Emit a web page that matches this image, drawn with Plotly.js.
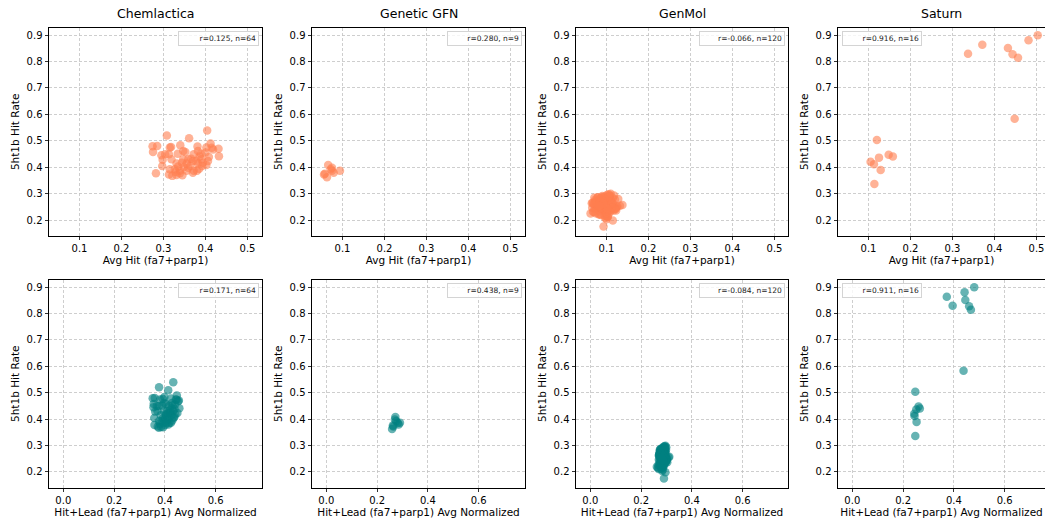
<!DOCTYPE html>
<html><head><meta charset="utf-8">
<script src="https://cdn.plot.ly/plotly-3.0.1.min.js"></script>
<style>html,body{margin:0;padding:0;background:#fff;overflow:hidden}#chart{width:1045px;height:519px}</style>
</head><body><div id="chart"></div>
<script>
const methods = ['Chemlactica', 'Genetic GFN', 'GenMol', 'Saturn'];
const topXLabel = 'Avg Hit (fa7+parp1)';
const bottomXLabel = 'Hit+Lead (fa7+parp1) Avg Normalized';
const yLabel = '5ht1b Hit Rate';
const topStats = ['r=0.125, n=64', 'r=0.280, n=9', 'r=-0.066, n=120', 'r=0.916, n=16'];
const bottomStats = ['r=0.171, n=64', 'r=0.438, n=9', 'r=-0.084, n=120', 'r=0.911, n=16'];

// Chemlactica
const chemY = [0.539,0.520,0.509,0.479,0.480,0.457,0.474,0.476,0.483,0.489,0.470,0.473,0.478,0.449,0.449,0.451,0.457,0.449,0.451,0.455,0.438,0.441,0.428,0.404,0.414,0.430,0.423,0.430,0.414,0.408,0.414,0.402,0.401,0.392,0.392,0.386,0.386,0.386,0.377,0.372,0.370,0.369,0.379,0.377,0.386,0.404,0.417,0.423,0.440,0.423,0.430,0.430,0.398,0.461,0.467,0.474,0.445,0.461,0.432,0.404,0.394,0.382,0.367,0.417];
const chemHit = [0.404,0.308,0.361,0.274,0.285,0.275,0.315,0.318,0.340,0.412,0.431,0.415,0.381,0.304,0.313,0.334,0.352,0.372,0.389,0.400,0.408,0.432,0.298,0.297,0.331,0.359,0.378,0.390,0.382,0.402,0.355,0.335,0.348,0.315,0.327,0.339,0.372,0.380,0.282,0.313,0.331,0.345,0.370,0.339,0.355,0.364,0.394,0.406,0.386,0.370,0.347,0.319,0.359,0.382,0.418,0.402,0.295,0.347,0.366,0.392,0.385,0.329,0.321,0.344];
const chemNorm = [0.433,0.377,0.413,0.352,0.360,0.356,0.381,0.392,0.398,0.447,0.455,0.446,0.424,0.368,0.375,0.389,0.404,0.417,0.430,0.440,0.438,0.457,0.362,0.358,0.384,0.409,0.421,0.433,0.426,0.437,0.405,0.392,0.400,0.377,0.388,0.395,0.418,0.424,0.359,0.372,0.385,0.393,0.414,0.401,0.407,0.415,0.441,0.449,0.427,0.414,0.396,0.371,0.410,0.428,0.452,0.443,0.355,0.397,0.419,0.434,0.429,0.380,0.376,0.403];

// Genetic GFN
const gfnY = [0.408,0.375,0.362,0.392,0.386,0.379,0.386,0.398,0.372];
const gfnHit = [0.066,0.058,0.063,0.072,0.075,0.079,0.094,0.075,0.056];
const gfnNorm = [0.272,0.262,0.259,0.275,0.281,0.285,0.290,0.270,0.264];

// GenMol
const genmolY = [
0.262,0.248,0.275,0.231,0.289,0.254,0.267,0.218,0.243,0.281,
0.259,0.236,0.272,0.295,0.226,0.251,0.264,0.240,0.285,0.208,
0.270,0.246,0.257,0.233,0.278,0.262,0.222,0.291,0.249,0.268,
0.238,0.255,0.283,0.212,0.260,0.274,0.244,0.229,0.266,0.252,
0.287,0.235,0.258,0.271,0.215,0.248,0.280,0.263,0.241,0.297,
0.225,0.256,0.269,0.237,0.284,0.250,0.203,0.276,0.261,0.245,
0.232,0.273,0.258,0.290,0.219,0.265,0.247,0.282,0.239,0.254,
0.268,0.227,0.286,0.253,0.242,0.175,0.277,0.260,0.234,0.271,
0.249,0.293,0.221,0.264,0.256,0.240,0.279,0.198,0.267,0.252,
0.230,0.288,0.245,0.262,0.274,0.216,0.257,0.283,0.238,0.266,
0.251,0.270,0.226,0.294,0.243,0.259,0.280,0.211,0.263,0.247,
0.275,0.236,0.255,0.286,0.229,0.268,0.244,0.261,0.299,0.253];
const genmolHit = [
0.091,0.078,0.104,0.068,0.096,0.113,0.085,0.099,0.072,0.108,
0.082,0.117,0.094,0.101,0.074,0.126,0.088,0.106,0.079,0.097,
0.112,0.066,0.093,0.084,0.120,0.100,0.081,0.090,0.109,0.073,
0.095,0.087,0.115,0.103,0.070,0.083,0.122,0.098,0.077,0.107,
0.089,0.110,0.075,0.092,0.102,0.119,0.086,0.069,0.097,0.105,
0.062,0.080,0.111,0.094,0.071,0.124,0.100,0.088,0.116,0.076,
0.103,0.092,0.083,0.108,0.087,0.067,0.114,0.096,0.090,0.132,
0.078,0.099,0.105,0.085,0.121,0.093,0.073,0.110,0.101,0.088,
0.095,0.118,0.084,0.076,0.106,0.091,0.128,0.115,0.082,0.098,
0.070,0.104,0.089,0.113,0.079,0.096,0.138,0.086,0.109,0.093,
0.081,0.074,0.100,0.107,0.118,0.087,0.095,0.103,0.065,0.112,
0.090,0.123,0.097,0.079,0.108,0.085,0.101,0.092,0.110,0.083];
const genmolNorm = [
0.284,0.279,0.291,0.276,0.288,0.295,0.282,0.286,0.273,0.293,
0.281,0.297,0.287,0.290,0.275,0.299,0.283,0.292,0.278,0.285,
0.294,0.270,0.286,0.280,0.296,0.289,0.277,0.284,0.291,0.274,
0.288,0.283,0.298,0.279,0.287,0.276,0.301,0.285,0.272,0.290,
0.282,0.293,0.271,0.286,0.266,0.294,0.280,0.289,0.284,0.292,
0.268,0.278,0.295,0.287,0.274,0.302,0.283,0.281,0.297,0.276,
0.290,0.285,0.279,0.293,0.262,0.271,0.296,0.288,0.284,0.308,
0.277,0.286,0.291,0.282,0.298,0.290,0.273,0.294,0.287,0.281,
0.289,0.299,0.280,0.275,0.292,0.285,0.276,0.296,0.278,0.288,
0.272,0.291,0.284,0.295,0.277,0.287,0.311,0.283,0.293,0.286,
0.279,0.274,0.289,0.294,0.300,0.282,0.288,0.269,0.270,0.297,
0.285,0.303,0.290,0.276,0.292,0.281,0.287,0.284,0.296,0.280];

// Saturn
const saturnY = [0.899,0.880,0.863,0.829,0.851,0.827,0.814,0.583,0.503,0.436,0.420,0.411,0.447,0.440,0.389,0.336];
const saturnHit = [0.503,0.481,0.371,0.337,0.432,0.443,0.456,0.448,0.120,0.125,0.105,0.113,0.148,0.158,0.129,0.114];
const saturnNorm = [0.480,0.442,0.372,0.395,0.445,0.460,0.467,0.438,0.248,0.252,0.244,0.245,0.261,0.266,0.253,0.248];

const yVals = [chemY, gfnY, genmolY, saturnY];
const hitVals = [chemHit, gfnHit, genmolHit, saturnHit];
const normVals = [chemNorm, gfnNorm, genmolNorm, saturnNorm];

const W = 1045, H = 519;
const colPx = [[49,262],[312,525],[576,788],[838,1045]];
const topRowPx = [28, 235.7], botRowPx = [280, 487.5];
const legendW = [83, 77, 88, 82];
const topColor = '#FF7F50', botColor = '#008080';
const FONT = 'DejaVu Sans, Liberation Sans, sans-serif';

const topX0 = 0.0274, topPxPerUnit = 420;
const botX0 = -0.0563, botPxPerUnit = 254;
const yRange = [0.1406, 0.9265];

const data = [];
const layout = {
  width: W, height: H, margin: {l:0, r:0, t:0, b:0},
  paper_bgcolor: '#fff', plot_bgcolor: '#fff', showlegend: false,
  font: {family: FONT, color: '#000'},
  annotations: []
};

function axCommon() {
  return {ticks:'outside', ticklen:3.5, tickwidth:0.8, tickcolor:'#000',
    showline:true, linecolor:'#000', linewidth:1,
    showgrid:true, gridcolor:'#c2c2c2', griddash:'3px,2px', gridwidth:0.8,
    zeroline:false, tickfont:{size:10, color:'#000', family: FONT}, automargin:false, fixedrange:true};
}

for (let row = 0; row < 2; row++) {
  for (let c = 0; c < 4; c++) {
    const idx = row*4 + c + 1;
    const xn = idx === 1 ? 'x' : 'x' + idx;
    const yn = idx === 1 ? 'y' : 'y' + idx;
    const xk = idx === 1 ? 'xaxis' : 'xaxis' + idx;
    const yk = idx === 1 ? 'yaxis' : 'yaxis' + idx;
    const px = colPx[c];
    const rp = row === 0 ? topRowPx : botRowPx;
    const widthPx = px[1] - px[0];
    const x0 = row === 0 ? topX0 : botX0;
    const ppu = row === 0 ? topPxPerUnit : botPxPerUnit;
    const xa = Object.assign(axCommon(), {
      domain: [px[0]/W, px[1]/W], anchor: yn,
      range: [x0, x0 + widthPx/ppu],
      tick0: 0, dtick: row === 0 ? 0.1 : 0.2, tickformat: '.1f',
      mirror: true,
      title: {text: row === 0 ? topXLabel : bottomXLabel, font:{size:10.5, color:'#000', family: FONT}, standoff: 3}
    });
    const ya = Object.assign(axCommon(), {
      domain: [1 - rp[1]/H, 1 - rp[0]/H], anchor: xn,
      range: yRange, tick0: 0, dtick: 0.1, tickformat: '.1f',
      mirror: c !== 3,
      title: {text: yLabel, font:{size:10.5, color:'#000', family: FONT}, standoff: 4}
    });
    layout[xk] = xa; layout[yk] = ya;

    data.push({
      type: 'scatter', mode: 'markers', xaxis: xn, yaxis: yn,
      x: row === 0 ? hitVals[c] : normVals[c], y: yVals[c],
      name: methods[c],
      marker: {color: row === 0 ? topColor : botColor, size: 8.5, opacity: 0.6, line: {width: 0}},
      hoverinfo: 'skip'
    });

    if (row === 0) {
      layout.annotations.push({
        xref: xn + ' domain', yref: yn + ' domain', x: 0.5, y: 1,
        xanchor: 'center', yanchor: 'bottom', yshift: 5, showarrow: false,
        text: methods[c], font: {size: 12.5, color: '#000', family: FONT}
      });
    }
    const stat = row === 0 ? topStats[c] : bottomStats[c];
    const isLeft = c === 3;
    layout.annotations.push({
      xref: xn + ' domain', yref: yn + ' domain',
      x: isLeft ? 0 : 1, y: 1,
      xanchor: isLeft ? 'left' : 'right', yanchor: 'top',
      xshift: isLeft ? 4 : -3, yshift: -3,
      showarrow: false, text: stat, align: 'right',
      width: legendW[c] - 8, borderpad: 2,
      bordercolor: '#d4d4d4', borderwidth: 1, bgcolor: 'rgba(255,255,255,0.8)',
      font: {size: 7.5, color: '#222', family: FONT}
    });
  }
}

Plotly.newPlot('chart', data, layout, {staticPlot: true, displayModeBar: false});
</script></body></html>
